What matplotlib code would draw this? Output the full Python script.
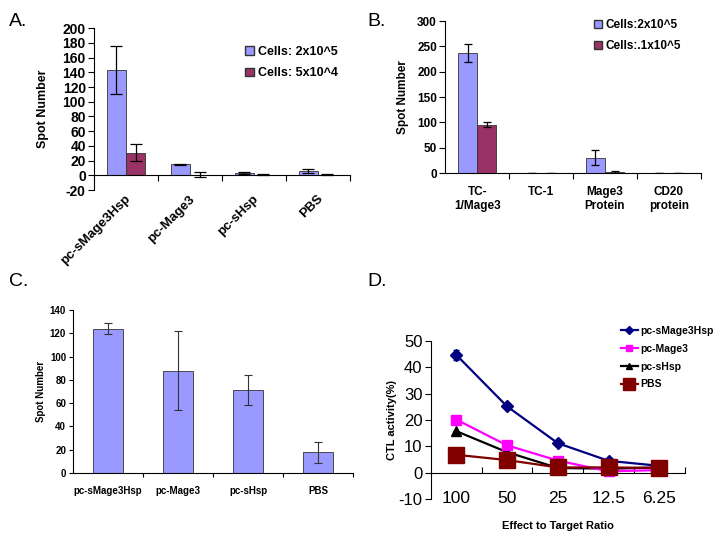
import numpy as np
import matplotlib.pyplot as plt
from matplotlib.lines import Line2D
from matplotlib.patches import Patch

plt.rcParams['font.family'] = ['Liberation Sans', 'DejaVu Sans']
plt.rcParams['axes.unicode_minus'] = False

# Panel A
a_cats = ['pc-sMage3Hsp', 'pc-Mage3', 'pc-sHsp', 'PBS']
a_hi = [143, 15, 3, 6]
a_hi_err = [33, 1, 1, 3]
a_lo = [31, 1, 1, 1]
a_lo_err = [12, 3, 0.5, 0.5]

# Panel B
b_cats = ['TC-\n1/Mage3', 'TC-1', 'Mage3\nProtein', 'CD20\nprotein']
b_hi = [237, 1, 30, 0]
b_hi_err = [17, 0, 15, 0]
b_lo = [95, 1, 2, 0]
b_lo_err = [5, 0, 1, 0]

# Panel C
c_cats = ['pc-sMage3Hsp', 'pc-Mage3', 'pc-sHsp', 'PBS']
c_vals = [124, 88, 71, 18]
c_err = [5, 34, 13, 9]

# Panel D
d_ratios = ['100', '50', '25', '12.5', '6.25']
d_smage3hsp = [44.8, 25.2, 11.2, 4.5, 2.6]
d_smage3hsp_err = [1.8, 1.0, 0.8, 0.4, 0.4]
d_mage3 = [20.2, 10.4, 4.6, 0.5, 1.0]
d_shsp = [15.8, 7.8, 1.8, 1.5, 2.0]
d_pbs = [6.8, 4.8, 2.0, 2.0, 1.8]

blue = '#9999ff'
wine = '#993366'
edge = '#333333'

fig = plt.figure(figsize=(7.24, 5.33), dpi=100)

# ---------- A ----------
axA = fig.add_axes([0.130, 0.6435, 0.353, 0.3035])
x = np.arange(len(a_cats))
w = 0.3
axA.bar(x - w / 2, a_hi, w, color=blue, edgecolor=edge, lw=0.6,
        yerr=a_hi_err, capsize=4, error_kw=dict(lw=0.9, capthick=0.9))
axA.bar(x + w / 2, a_lo, w, color=wine, edgecolor=edge, lw=0.6,
        yerr=a_lo_err, capsize=4, error_kw=dict(lw=0.9, capthick=0.9))
axA.set_xlim(-0.5, 3.5)
axA.set_ylim(-20, 200)
axA.set_yticks(range(-20, 201, 20))
axA.spines['top'].set_visible(False)
axA.spines['right'].set_visible(False)
axA.spines['bottom'].set_position(('data', 0))
axA.set_xticks(np.arange(0.5, 4, 1))
axA.set_xticklabels([])
axA.tick_params(axis='x', direction='out', length=4)
axA.tick_params(axis='y', direction='out', length=4, labelsize=10, pad=2)
for lab in axA.get_yticklabels():
    lab.set_fontweight('bold')
for i, c in enumerate(a_cats):
    axA.text(i - 0.02, -24, c, rotation=45, ha='right', va='top',
             fontsize=9.5, fontweight='bold', rotation_mode='anchor')
axA.set_ylabel('Spot Number', fontsize=9, fontweight='bold', labelpad=10)
axA.legend(handles=[Patch(facecolor=blue, edgecolor=edge, label='Cells: 2x10^5'),
                    Patch(facecolor=wine, edgecolor=edge, label='Cells: 5x10^4')],
           loc='upper left', bbox_to_anchor=(0.548, 0.96), frameon=False,
           prop=dict(size=9, weight='bold'), handlelength=0.7, handleheight=0.7,
           handletextpad=0.3, labelspacing=0.75)

# ---------- B ----------
axB = fig.add_axes([0.615, 0.6754, 0.353, 0.2852])
x = np.arange(len(b_cats))
axB.bar(x - w / 2, b_hi, w, color=blue, edgecolor=edge, lw=0.6,
        yerr=b_hi_err, capsize=3, error_kw=dict(lw=0.9, capthick=0.9))
axB.bar(x + w / 2, b_lo, w, color=wine, edgecolor=edge, lw=0.6,
        yerr=b_lo_err, capsize=3, error_kw=dict(lw=0.9, capthick=0.9))
axB.set_xlim(-0.5, 3.5)
axB.set_ylim(0, 300)
axB.set_yticks(range(0, 301, 50))
axB.spines['top'].set_visible(False)
axB.spines['right'].set_visible(False)
axB.set_xticks(np.arange(0.5, 4, 1))
axB.set_xticklabels([])
axB.tick_params(axis='x', direction='out', length=4)
axB.tick_params(axis='y', direction='out', length=4, labelsize=8.5, pad=2)
for lab in axB.get_yticklabels():
    lab.set_fontweight('bold')
for i, c in enumerate(b_cats):
    axB.text(i, -25, c, ha='center', va='top', fontsize=8.5,
             fontweight='bold', linespacing=1.3)
axB.set_ylabel('Spot Number', fontsize=8.5, fontweight='bold', labelpad=6)
axB.legend(handles=[Patch(facecolor=blue, edgecolor=edge, label='Cells:2x10^5'),
                    Patch(facecolor=wine, edgecolor=edge, label='Cells:.1x10^5')],
           loc='upper left', bbox_to_anchor=(0.54, 1.08), frameon=False,
           prop=dict(size=8.5, weight='bold'), handlelength=0.7, handleheight=0.7,
           handletextpad=0.3, labelspacing=0.75)

# ---------- C ----------
axC = fig.add_axes([0.1008, 0.1126, 0.3868, 0.3058])
x = np.arange(len(c_cats))
axC.bar(x, c_vals, 0.42, color=blue, edgecolor=edge, lw=0.6,
        yerr=c_err, capsize=3, error_kw=dict(lw=0.8, capthick=0.8, ecolor='#333333'))
axC.set_xlim(-0.5, 3.5)
axC.set_ylim(0, 140)
axC.set_yticks(range(0, 141, 20))
axC.spines['top'].set_visible(False)
axC.spines['right'].set_visible(False)
axC.set_xticks(np.arange(0.5, 4, 1))
axC.set_xticklabels([])
axC.tick_params(axis='x', direction='out', length=3)
axC.tick_params(axis='y', direction='out', length=3, labelsize=7, pad=2)
for lab in axC.get_yticklabels():
    lab.set_fontweight('bold')
for i, c in enumerate(c_cats):
    axC.text(i, -11, c, ha='center', va='top', fontsize=7, fontweight='bold')
axC.set_ylabel('Spot Number', fontsize=7, fontweight='bold', labelpad=3)

# ---------- D ----------
axD = fig.add_axes([0.595, 0.0638, 0.351, 0.2962])
x = np.arange(len(d_ratios))
axD.errorbar(x, d_smage3hsp, yerr=d_smage3hsp_err, color='#000080', marker='D',
             ms=6, lw=1.6, capsize=2, label='pc-sMage3Hsp', zorder=5)
axD.plot(x, d_mage3, color='#ff00ff', marker='s', ms=7, lw=1.6,
         label='pc-Mage3', zorder=4)
axD.plot(x, d_shsp, color='black', marker='^', ms=7, lw=1.6,
         label='pc-sHsp', zorder=3)
axD.plot(x, d_pbs, color='#800000', marker='s', ms=11, lw=1.6,
         label='PBS', zorder=6)
axD.set_xlim(-0.5, 4.5)
axD.set_ylim(-10, 50)
axD.set_yticks(range(-10, 51, 10))
axD.spines['top'].set_visible(False)
axD.spines['right'].set_visible(False)
axD.spines['bottom'].set_position(('data', 0))
axD.set_xticks(np.arange(0.5, 5, 1))
axD.set_xticklabels([])
axD.tick_params(axis='x', direction='in', length=4)
axD.tick_params(axis='y', direction='out', length=4, labelsize=12, pad=2)
for i, r in enumerate(d_ratios):
    axD.text(i, -10, r, ha='center', va='center', fontsize=12.5)
axD.set_ylabel('CTL activity(%)', fontsize=8, fontweight='bold', labelpad=1)
axD.text(0.5, -0.17, 'Effect to Target Ratio', transform=axD.transAxes,
         ha='center', va='center', fontsize=8, fontweight='bold')
handles = [Line2D([], [], color='#000080', marker='D', ms=4.5, lw=1.6),
           Line2D([], [], color='#ff00ff', marker='s', ms=5, lw=1.6),
           Line2D([], [], color='black', marker='^', ms=5, lw=1.6),
           Line2D([], [], color='#800000', marker='s', ms=9, lw=1.6)]
fig.legend(handles, ['pc-sMage3Hsp', 'pc-Mage3', 'pc-sHsp', 'PBS'],
           loc='upper left', bbox_to_anchor=(0.845, 0.406), frameon=False,
           prop=dict(size=7.5, weight='bold'), handlelength=1.6,
           handletextpad=0.2, labelspacing=0.75)

# panel letters
fig.text(0.012, 0.975, 'A.', fontsize=14, va='top')
fig.text(0.507, 0.975, 'B.', fontsize=14, va='top')
fig.text(0.012, 0.488, 'C.', fontsize=14, va='top')
fig.text(0.507, 0.488, 'D.', fontsize=14, va='top')

fig.savefig('out.png', dpi=100)
